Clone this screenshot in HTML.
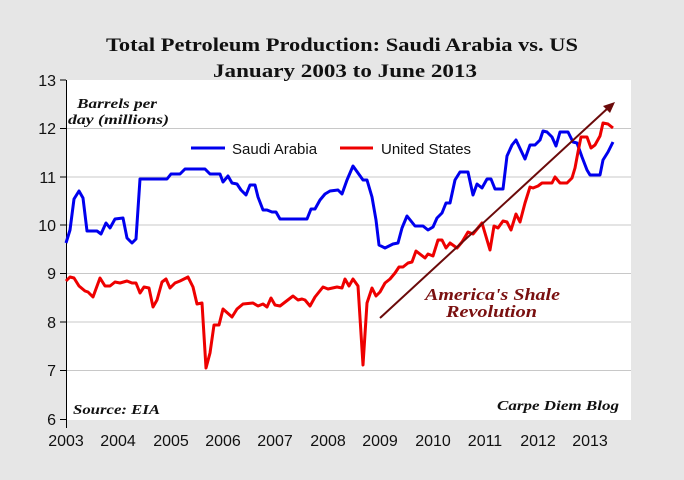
<!DOCTYPE html>
<html><head><meta charset="utf-8"><style>
body{margin:0;background:#e6e6e6;}
svg{display:block;font-family:"Liberation Sans",Arial,sans-serif;}
.s{font-family:"Liberation Serif","DejaVu Serif",serif;font-weight:bold;}
</style></head><body>
<svg width="684" height="480" viewBox="0 0 684 480" xmlns="http://www.w3.org/2000/svg">
<rect width="684" height="480" fill="#e6e6e6"/>
<rect x="66" y="80" width="565" height="340" fill="#fff"/>
<g stroke="#c8c8c8" stroke-width="1">
<line x1="66" x2="631" y1="128.5" y2="128.5"/><line x1="66" x2="631" y1="177" y2="177"/>
<line x1="66" x2="631" y1="225" y2="225"/><line x1="66" x2="631" y1="273.5" y2="273.5"/>
<line x1="66" x2="631" y1="322" y2="322"/><line x1="66" x2="631" y1="370.5" y2="370.5"/>
</g>
<g stroke="#000" stroke-width="1">
<line x1="60" x2="66" y1="80" y2="80"/><line x1="60" x2="66" y1="128.5" y2="128.5"/><line x1="60" x2="66" y1="177" y2="177"/><line x1="60" x2="66" y1="225" y2="225"/><line x1="60" x2="66" y1="273.5" y2="273.5"/><line x1="60" x2="66" y1="322" y2="322"/><line x1="60" x2="66" y1="370.5" y2="370.5"/><line x1="60" x2="66" y1="419.5" y2="419.5"/>
<line x1="66.5" x2="66.5" y1="80" y2="428"/>
</g>
<g id="tk" stroke="#000"></g>
<g font-size="16" fill="#111" text-anchor="end">
<text x="56" y="86">13</text><text x="56" y="134">12</text><text x="56" y="183">11</text><text x="56" y="231">10</text><text x="56" y="279">9</text><text x="56" y="328">8</text><text x="56" y="376">7</text><text x="56" y="425">6</text>
</g>
<g font-size="16" fill="#111" text-anchor="middle">
<text x="66" y="446">2003</text><text x="118" y="446">2004</text><text x="171" y="446">2005</text><text x="223" y="446">2006</text><text x="275" y="446">2007</text><text x="328" y="446">2008</text><text x="380" y="446">2009</text><text x="433" y="446">2010</text><text x="485" y="446">2011</text><text x="538" y="446">2012</text><text x="590" y="446">2013</text>
</g>
<text class="s" x="106" y="51" font-size="19" fill="#111" textLength="472" lengthAdjust="spacingAndGlyphs">Total Petroleum Production: Saudi Arabia vs. US</text>
<text class="s" x="213" y="77" font-size="19" fill="#111" textLength="264" lengthAdjust="spacingAndGlyphs">January 2003 to June 2013</text>
<g class="s" font-style="italic" font-size="14" fill="#111">
<text x="77" y="108" textLength="80" lengthAdjust="spacingAndGlyphs">Barrels per</text>
<text x="68" y="124" textLength="101" lengthAdjust="spacingAndGlyphs">day (millions)</text>
<text x="73" y="414" textLength="87" lengthAdjust="spacingAndGlyphs">Source: EIA</text>
<text x="497" y="410" textLength="122" lengthAdjust="spacingAndGlyphs">Carpe Diem Blog</text>
</g>
<g class="s" font-style="italic" font-size="17" fill="#7a1010">
<text x="425" y="300" textLength="135" lengthAdjust="spacingAndGlyphs">America's Shale</text>
<text x="446" y="317" textLength="91" lengthAdjust="spacingAndGlyphs">Revolution</text>
</g>
<line x1="191" x2="225" y1="148" y2="148" stroke="#0000ee" stroke-width="3"/>
<text x="232" y="154" font-size="15" fill="#111">Saudi Arabia</text>
<line x1="340" x2="373" y1="148" y2="148" stroke="#ee0000" stroke-width="3"/>
<text x="381" y="154" font-size="15" fill="#111">United States</text>
<polyline fill="none" stroke="#0000ee" stroke-width="3" stroke-linejoin="round" points="66,243 70,230 74,199 79,191 83,198 87,231 97,231 101,234 106,223 110,228 115,219 123,218 127,238 132,243 136,239 140,179 167,179 171,174 180,174 185,169 205,169 210,174 220,174 223,182 228,176 232,183 237,184 241,190 246,195 250,185 255,185 258,197 263,210 267,210 272,212 276,212 280,219 307,219 311,209 315,209 320,200 325,194 330,191 338,190 342,194 347,180 353,166 358,173 363,180 367,180 372,197 376,220 379,245 385,248 393,244 398,243 402,228 407,216 415,226 423,226 428,230 433,227 437,218 442,213 446,203 450,203 455,180 460,172 468,172 473,195 477,184 482,188 487,179 491,179 495,189 503,189 507,156 512,145 516,140 525,159 530,145 535,145 540,140 543,131 547,132 552,137 556,146 560,132 568,132 573,142 577,143 582,157 587,170 590,175 600,175 603,160 608,152 613,142"/>
<polyline fill="none" stroke="#ee0000" stroke-width="3" stroke-linejoin="round" points="66,281 70,277 74,278 79,286 85,291 88,292 93,297 100,278 105,286 110,286 115,282 120,283 127,281 132,283 136,283 140,293 144,287 149,288 153,307 157,300 162,282 166,279 170,288 175,283 180,281 188,277 193,287 197,304 202,303 206,368 210,353 214,325 219,325 223,309 232,317 237,309 243,304 253,303 258,306 263,304 267,307 271,298 275,305 280,306 293,296 298,300 302,299 305,300 310,306 315,297 323,287 328,289 337,287 342,288 345,279 349,286 353,279 358,286 363,365 367,303 372,288 376,296 380,292 385,283 390,279 395,273 399,267 403,267 408,263 412,262 416,251 425,258 428,254 433,256 438,240 442,240 446,248 450,243 457,248 462,242 468,232 473,234 482,223 490,250 494,226 498,228 503,221 507,222 511,230 516,214 520,222 525,203 530,187 533,188 538,186 542,183 547,183 552,183 555,177 560,183 567,183 572,178 575,168 578,152 581,137 587,137 591,148 595,145 600,136 603,123 608,124 613,128"/>
<line x1="380" y1="318" x2="608" y2="108" stroke="#6b0a0a" stroke-width="2"/>
<polygon points="615,102 603,106 610,113" fill="#6b0a0a"/>
<script>
var g=document.getElementById('tk'),s='';
for(var i=0;i<=43;i++){var x=66+i*13.1;var l=(i%4==0)?8:5;s+='<line x1="'+(x+0.5)+'" x2="'+(x+0.5)+'" y1="420" y2="'+(420+l)+'"/>';}
g.innerHTML=s;
</script>
</svg>
</body></html>
